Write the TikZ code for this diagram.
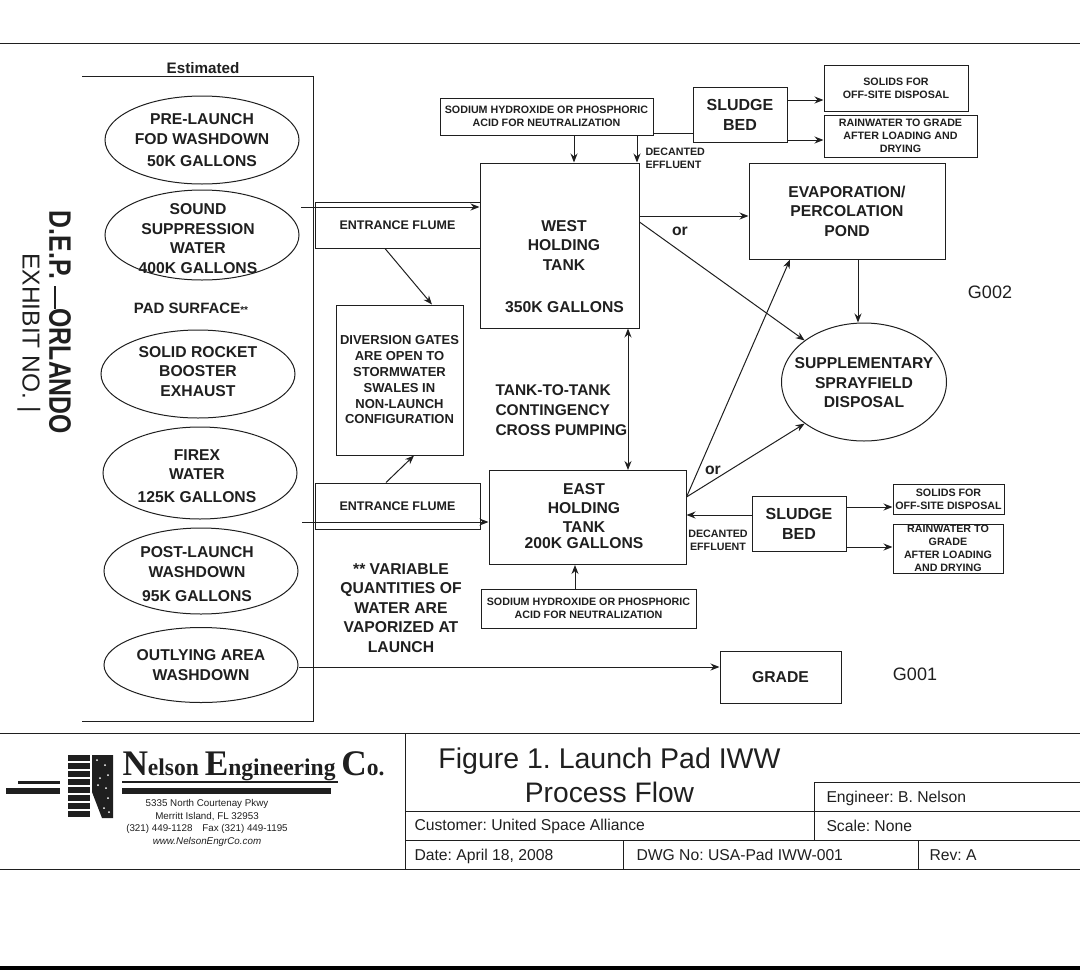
\documentclass[tikz,border=0pt]{standalone}
\usepackage{graphicx}
\usepackage{fontspec}
\setmainfont{Liberation Sans}
\newfontfamily\logofont{Liberation Serif}
\usetikzlibrary{arrows.meta,shapes.geometric}
\definecolor{ink}{gray}{0.12}

\begin{document}
\frenchspacing
\begin{tikzpicture}[x=1pt, y=-1pt, ->, >={Stealth[length=9pt,width=7pt]}, line width=1pt, draw=ink, text=ink]
\tikzstyle{every node}=[font=\bfseries\fontsize{15.7}{19.5}\selectfont, align=center, inner sep=0pt]
\tikzstyle{pad}=[draw, ellipse, minimum width=194pt]
\tikzstyle{box}=[draw, rectangle]
\tikzstyle{tiny}=[font=\bfseries\fontsize{10.7}{12.8}\selectfont]
\tikzstyle{small}=[font=\bfseries\fontsize{13}{15.8}\selectfont]
\tikzstyle{large}=[font=\bfseries\fontsize{16}{20}\selectfont]
\tikzstyle{flume}=[font=\bfseries\fontsize{12.5}{15}\selectfont]
\tikzstyle{plain}=[font=\fontsize{15.7}{18}\selectfont, anchor=base west]
\tikzstyle{rule}=[-, line width=1pt]
\useasboundingbox (0,0) rectangle (1080,970);

% frame
\coordinate (ftl) at (0,43);
\coordinate (ftr) at (1080,43);
\coordinate (fml) at (0,733);
\coordinate (fmr) at (1080,733);
\coordinate (fbl) at (0,869);
\coordinate (fbr) at (1080,869);
\draw[rule] (ftl) -- (ftr);
\draw[rule] (fml) -- (fmr);
\draw[rule] (fbl) -- (fbr);
\fill[black] (0,966) rectangle (1080,970);

% estimated bracket
\node (estimated) at (203,68) {\fontsize{15.2}{16}\selectfont Estimated};
\coordinate (ba) at (82,76);
\coordinate (bb) at (313,76);
\coordinate (bc) at (313,721);
\coordinate (bd) at (82,721);
\draw[-, line width=0.8pt] (ba) -- (bb) -- (bc) -- (bd);

% sources
\node[pad, minimum height=88pt] (prelaunch) at (202,140) {};
\node[pad, minimum height=90pt] (sound) at (202,235) {};
\node[pad, minimum height=88pt] (solid) at (198,374) {};
\node[pad, minimum height=92pt] (firex) at (200,473) {};
\node[pad, minimum height=86pt] (post) at (201,571) {};
\node[pad, minimum height=75pt] (outlying) at (201,665) {};
\node (prelaunchtxt) at (202,140) {PRE-LAUNCH\\[0.5pt]FOD WASHDOWN\\[2pt]50K GALLONS};
\node (soundtxt) at (198,238.5) {SOUND\\SUPPRESSION\\WATER\\400K GALLONS};
\node (solidtxt) at (198,371.5) {SOLID ROCKET\\BOOSTER\\EXHAUST};
\node (firextxt) at (197,476) {FIREX\\WATER\\[3pt]125K GALLONS};
\node (posttxt) at (197,574.5) {POST-LAUNCH\\WASHDOWN\\[5pt]95K GALLONS};
\node (outlyingtxt) at (201,665) {OUTLYING AREA\\WASHDOWN};
\node[font=\bfseries\fontsize{15}{18}\selectfont] (surface) at (191,308) {PAD SURFACE{\fontsize{10}{12}\selectfont**}};

% flumes and gates
\node[box, flume, minimum width=165pt, minimum height=46pt] (flumeW) at (397.5,225) {ENTRANCE FLUME};
\node[box, flume, minimum width=165pt, minimum height=46pt] (flumeE) at (397.5,506) {ENTRANCE FLUME};
\node[box, small, minimum width=127pt, minimum height=150pt] (gates) at (399.5,380) {DIVERSION GATES\\ARE OPEN TO\\STORMWATER\\SWALES IN\\NON-LAUNCH\\CONFIGURATION};

% tanks
\node[box, minimum width=159pt, minimum height=165pt] (west) at (559.5,245.5) {};
\node (westtxt) at (564,245.5) {WEST\\HOLDING\\TANK};
\node (westcap) at (564.5,307) {350K GALLONS};
\node[box, minimum width=197pt, minimum height=94pt] (east) at (587.5,517.5) {};
\node (easttxt) at (584,516) {EAST\\[-0.5pt]HOLDING\\[-0.5pt]TANK\\[-3.5pt]200K GALLONS};
\node[box, minimum width=196pt, minimum height=96pt] (evap) at (847,211) {EVAPORATION/\\PERCOLATION\\POND};
\node[draw, ellipse, minimum width=165pt, minimum height=118pt] (spray) at (864,382) {};
\node (spraytxt) at (864,383) {SUPPLEMENTARY\\SPRAYFIELD\\DISPOSAL};
\node[box, minimum width=121pt, minimum height=52pt] (grade) at (780.5,677) {GRADE};

% top side
\node[box, tiny, minimum width=213pt, minimum height=37pt] (sodiumW) at (546.5,116.5) {SODIUM HYDROXIDE OR PHOSPHORIC\\ACID FOR NEUTRALIZATION};
\node[box, large, minimum width=94pt, minimum height=55pt] (sludgeW) at (740,114.5) {SLUDGE\\BED};
\node[box, tiny, minimum width=144pt, minimum height=46pt] (solidsW) at (896,88) {SOLIDS FOR\\OFF-SITE DISPOSAL};
\node[box, tiny, minimum width=153pt, minimum height=42pt] (rainW) at (900.5,136) {RAINWATER TO GRADE\\AFTER LOADING AND\\DRYING};
\node[tiny, anchor=west, align=left] (decantW) at (645,158) {DECANTED\\EFFLUENT};

% bottom side
\node[box, tiny, minimum width=215pt, minimum height=39pt] (sodiumE) at (588.5,608.5) {SODIUM HYDROXIDE OR PHOSPHORIC\\ACID FOR NEUTRALIZATION};
\node[box, large, minimum width=94pt, minimum height=55pt] (sludgeE) at (799,523.5) {SLUDGE\\BED};
\node[box, tiny, minimum width=111pt, minimum height=30pt] (solidsE) at (948.5,499) {SOLIDS FOR\\OFF-SITE DISPOSAL};
\node[box, minimum width=110pt, minimum height=49pt] (rainE) at (948,548.5) {};
\node[tiny] (rainEtxt) at (948,548.5) {RAINWATER TO\\GRADE\\AFTER LOADING\\AND DRYING};
\node[tiny] (decantE) at (718,540) {DECANTED\\EFFLUENT};

% free labels
\node[anchor=west, align=left, font=\bfseries\fontsize{15.5}{20}\selectfont] (pumping) at (495,410) {TANK-TO-TANK\\CONTINGENCY\\CROSS PUMPING};
\node (variable) at (401,608) {** VARIABLE\\QUANTITIES OF\\WATER ARE\\VAPORIZED AT\\LAUNCH};
\node (orW) at (680,231) {or};
\node (orE) at (713,470) {or};
\node[font=\fontsize{18}{20}\selectfont] (gtwo) at (990,292) {G002};
\node[font=\fontsize{18}{20}\selectfont] (gone) at (915,674) {G001};
\node[rotate=-90, font=\bfseries\fontsize{31}{34}\selectfont] (dep) at (60,322.5) {\scalebox{0.8}[1]{D.E.P. \rule[0.3ex]{0.9em}{0.11ex}ORLANDO}};
\node[rotate=-90, font=\fontsize{24.5}{28}\selectfont] (exhibit) at (29,333) {EXHIBIT NO. |};

% connector ends outside any box
\coordinate (inW) at (301,207);
\coordinate (inE) at (302,522);

\path
(sodiumW.south -| 574,0) edge (west.north -| 574,0)
(sludgeW.west |- 0,133) edge[-] (sodiumW.east |- 0,133)
(sodiumW.south -| 637,0) edge (west.north -| 637,0)
(sludgeW.east |- 0,100) edge (solidsW.west |- 0,100)
(sludgeW.east |- 0,140) edge (rainW.west |- 0,140)
(inW) edge (west.west |- inW)
(flumeW.south -| 385,0) edge (gates.north -| 432,0)
(flumeE.north -| 386,0) edge (gates.south -| 414,0)
(inE) edge (east.west |- inE)
(west.east |- 0,216) edge (evap.west |- 0,216)
(west.east |- 0,222) edge (spray.145)
(evap.south -| 858,0) edge (spray.north -| 858,0)
(west.south -| 628,0) edge[<->] (east.north -| 628,0)
(east.east |- 0,497) edge (evap.south -| 790,0)
(east.east |- 0,497) edge (spray.215)
(sludgeE.west |- 0,515) edge (east.east |- 0,515)
(sludgeE.east |- 0,507) edge (solidsE.west |- 0,507)
(sludgeE.east |- 0,547) edge (rainE.west |- 0,547)
(sodiumE.north -| 575,0) edge (east.south -| 575,0)
(outlying.east |- 0,667) edge (grade.west |- 0,667);

% title block
\coordinate (va) at (405,733);
\coordinate (vb) at (405,869);
\coordinate (ha) at (405,811);
\coordinate (hb) at (1080,811);
\coordinate (hc) at (405,840);
\coordinate (hd) at (1080,840);
\coordinate (he) at (814,782);
\coordinate (hf) at (1080,782);
\coordinate (hg) at (814,840);
\coordinate (hh) at (623,840);
\coordinate (hi) at (623,869);
\coordinate (hj) at (918,840);
\coordinate (hk) at (918,869);
\draw[rule] (va) -- (vb);
\draw[rule] (ha) -- (hb);
\draw[rule] (hc) -- (hd);
\draw[rule] (he) -- (hf);
\draw[rule] (he) -- (hg);
\draw[rule] (hh) -- (hi);
\draw[rule] (hj) -- (hk);
\node[anchor=base, font=\fontsize{28.5}{32}\selectfont] (titleA) at (609.5,768) {Figure 1. Launch Pad IWW};
\node[anchor=base, font=\fontsize{28.2}{32}\selectfont] (titleB) at (609.5,802) {Process Flow};
\node[plain] (engineer) at (826,802) {Engineer: B. Nelson};
\node[plain] (customer) at (414,830) {Customer: United Space Alliance};
\node[plain] (scale) at (826,831) {Scale: None};
\node[plain] (date) at (414,860) {Date: April 18, 2008};
\node[plain] (dwg) at (636,860) {DWG No: USA-Pad IWW-001};
\node[plain] (rev) at (929,860) {Rev: A};

% logo
\foreach \yy in {755,763,771,779,787,795,803,811}
  \fill[ink] (68,\yy) rectangle (90,\yy+6);
\fill[ink] (92,755) -- (113,755) -- (113,818) -- (102,818) -- (92,792) -- cycle;
\foreach \xx/\yy in {97/760,105/765,108/775,100/778,106/788,98/785,108/798,104/808,109/812}
  \fill[white] (\xx,\yy) circle (1pt);
\fill[ink] (18,781) rectangle (60,784);
\fill[ink] (6,788) rectangle (60,794);
\fill[ink] (122,781) rectangle (338,783);
\fill[ink] (122,788) rectangle (331,794);
\node[anchor=base west, font=\logofont\bfseries\fontsize{24}{26}\selectfont] (nelson) at (122,775) {\scalebox{0.98}[1]{{\fontsize{36}{38}\selectfont N}elson {\fontsize{36}{38}\selectfont E}ngineering {\fontsize{36}{38}\selectfont C}o.}};
\node[font=\fontsize{9.8}{12.6}\selectfont] (address) at (207,823) {5335 North Courtenay Pkwy\\Merritt Island, FL  32953\\(321) 449-1128\quad Fax (321) 449-1195\\\textit{www.NelsonEngrCo.com}};
\end{tikzpicture}
\end{document}
